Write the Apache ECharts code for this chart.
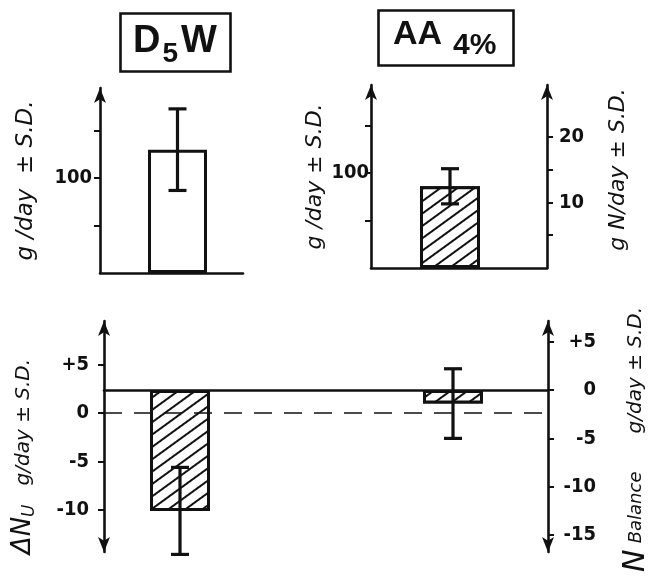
<!DOCTYPE html>
<html>
<head>
<meta charset="utf-8">
<script src="https://cdn.jsdelivr.net/npm/echarts@6/dist/echarts.min.js"></script>
<style>
  html, body { margin: 0; padding: 0; background: #fff; }
  #chart { width: 660px; height: 577px; }
</style>
</head>
<body>
<div id="chart"></div>
<script>
// Study groups
const groups = ['D5W', 'AA 4%'];
// Daily intake, g/day (mean and S.D.)
const intakeMean = [130, 86];
const intakeSD = [43, 18.5];
// Nitrogen balance, g/day (mean and S.D.)
const balanceMean = [-12.5, -1.4];
const balanceSD = [4.5, 3.6];
// Tick values and labelled ticks
const intakeTicks = [50, 100, 150];
const intakeLabels = [100];
const nitrogenTicks = [5, 10, 15, 20];
const nitrogenLabels = [10, 20];
const deltaNuTicks = [5, 0, -5, -10];
const balanceTicks = [5, 0, -5, -10, -15];

const INK = '#111';
const FONT = 'DejaVu Sans';
const TICK_FONT = "'DejaVu Sans Condensed', 'Liberation Sans Narrow', 'DejaVu Sans'";
const TITLE_FONT = 'Liberation Sans';
const AXIS_W = 2.6;

// axis ranges
const intakeMaxLeft = 195;
const intakeMaxRight = 192.6;
const nitrogenMax = 27.9;
const nuRange = [-14.33, 9.48];
const balRange = [-16.75, 7.14];

const hatch = {
  symbol: 'rect',
  symbolSize: 1,
  dashArrayX: [1, 0],
  dashArrayY: [2, 8],
  rotation: -Math.PI / 5,
  color: INK,
  backgroundColor: '#fff'
};

function signed(v) {
  return v > 0 ? '+' + v : (v < 0 ? '-' + Math.abs(v) : '' + v);
}

function errorBar(params, api) {
  const c = api.value(0);
  const hi = api.coord([c, api.value(1)]);
  const lo = api.coord([c, api.value(2)]);
  const cap = 9;
  const st = { stroke: INK, lineWidth: 3.2 };
  return {
    type: 'group',
    children: [
      { type: 'line', shape: { x1: hi[0], y1: hi[1], x2: lo[0], y2: lo[1] }, style: st },
      { type: 'line', shape: { x1: hi[0] - cap, y1: hi[1], x2: hi[0] + cap, y2: hi[1] }, style: st },
      { type: 'line', shape: { x1: lo[0] - cap, y1: lo[1], x2: lo[0] + cap, y2: lo[1] }, style: st }
    ]
  };
}

const tickStyle = { show: true, length: 6, lineStyle: { color: INK, width: 2 } };
function ticks(values) { return Object.assign({}, tickStyle, { customValues: values }); }
function labels(values, margin, extra) {
  return Object.assign({
    color: INK, fontFamily: TICK_FONT, fontWeight: 'bold', fontSize: 20,
    margin: margin, customValues: values
  }, extra || {});
}

function shownAxis(extra) {
  return Object.assign({
    type: 'value',
    splitLine: { show: false },
    axisLine: { show: true, lineStyle: { color: INK, width: AXIS_W }, symbol: ['none', 'arrow'], symbolSize: [9, 15] },
    nameLocation: 'middle',
    nameRotate: 90,
    nameTextStyle: { color: INK, fontFamily: FONT, fontStyle: 'italic', fontSize: 22 }
  }, extra);
}

function hiddenY(grid, min, max) {
  return { type: 'value', gridIndex: grid, min: min, max: max, show: false, splitLine: { show: false } };
}
function hiddenX(grid, cat) {
  return { type: 'category', gridIndex: grid, data: [cat], show: false };
}
function baseX(grid, extraLine) {
  return {
    type: 'category', gridIndex: grid, data: [''],
    axisLine: Object.assign({ lineStyle: { color: INK, width: AXIS_W } }, extraLine || {}),
    axisTick: { show: false }, axisLabel: { show: false }
  };
}
function panel(left, top, width, height) {
  return { left: left, top: top, width: width, height: height, outerBoundsMode: 'none', containLabel: false };
}

const chart = echarts.init(document.getElementById('chart'));

const option = {
  backgroundColor: '#fff',
  animation: false,
  title: [
    {
      left: 120, top: 18,
      text: '{d|D}{s|5}{w|W}',
      padding: [2, 14, 3, 13],
      borderColor: INK, borderWidth: 2.6,
      textStyle: {
        rich: {
          d: { fontFamily: TITLE_FONT, fontWeight: 'bold', fontSize: 38, color: INK, lineHeight: 44 },
          s: { fontFamily: TITLE_FONT, fontWeight: 'bold', fontSize: 28, color: INK, padding: [25, 3, 0, 2], lineHeight: 30 },
          w: { fontFamily: TITLE_FONT, fontWeight: 'bold', fontSize: 38, color: INK, lineHeight: 44 }
        }
      }
    },
    {
      left: 378, top: 15,
      text: '{a|AA}{p|4%}',
      padding: [3, 17, 5, 15],
      borderColor: INK, borderWidth: 2.6,
      textStyle: {
        rich: {
          a: { fontFamily: TITLE_FONT, fontWeight: 'bold', fontSize: 34, color: INK, lineHeight: 38, padding: [0, 0, 4, 0] },
          p: { fontFamily: TITLE_FONT, fontWeight: 'bold', fontSize: 30, color: INK, padding: [18, 0, 0, 11], lineHeight: 30 }
        }
      }
    }
  ],
  grid: [
    panel(100, 88, 143, 185),   // 0 intake D5W axes
    panel(148, 88, 59, 185),    // 1 intake D5W bar
    panel(371, 85, 176, 183),   // 2 intake AA axes
    panel(420, 85, 60, 183),    // 3 intake AA bar
    panel(104, 321, 444, 231),  // 4 balance axes
    panel(150, 321, 60, 231),   // 5 balance D5W bar
    panel(423, 321, 60, 231)    // 6 balance AA bar
  ],
  xAxis: [
    baseX(0),
    hiddenX(1, groups[0]),
    baseX(2),
    hiddenX(3, groups[1]),
    baseX(4, { onZero: true, onZeroAxisIndex: 6 }),
    hiddenX(5, groups[0]),
    hiddenX(6, groups[1])
  ],
  yAxis: [
    shownAxis({
      gridIndex: 0, min: 0, max: intakeMaxLeft,
      name: 'g /day  ± S.D.', nameGap: 62,
      nameTextStyle: { color: INK, fontFamily: FONT, fontStyle: 'italic', fontSize: 23 },
      axisTick: ticks(intakeTicks),
      axisLabel: labels(intakeLabels, 8)
    }),
    hiddenY(1, 0, intakeMaxLeft),
    shownAxis({
      gridIndex: 2, min: 0, max: intakeMaxRight, position: 'left',
      name: 'g /day ± S.D.', nameGap: 45,
      nameTextStyle: { color: INK, fontFamily: FONT, fontStyle: 'italic', fontSize: 22 },
      axisTick: ticks(intakeTicks),
      axisLabel: labels(intakeLabels, 2)
    }),
    shownAxis({
      gridIndex: 2, min: 0, max: nitrogenMax, position: 'right',
      name: 'g N/day ± S.D.', nameGap: 60,
      nameTextStyle: { color: INK, fontFamily: FONT, fontStyle: 'italic', fontSize: 22, padding: [0, 0, 0, 14] },
      axisTick: ticks(nitrogenTicks),
      axisLabel: labels(nitrogenLabels, 12)
    }),
    hiddenY(3, 0, intakeMaxRight),
    shownAxis({
      gridIndex: 4, min: nuRange[0], max: nuRange[1], position: 'left',
      name: '{big|ΔN}{sub|U}   g/day ± S.D.', nameGap: 66,
      axisLine: { show: true, lineStyle: { color: INK, width: AXIS_W }, symbol: ['arrow', 'arrow'], symbolSize: [9, 15] },
      axisTick: ticks(deltaNuTicks),
      axisLabel: labels(deltaNuTicks, 15, { formatter: v => signed(v) }),
      nameTextStyle: {
        color: INK, fontFamily: FONT, fontStyle: 'italic', fontSize: 20, padding: [0, 40, 0, 0],
        rich: {
          big: { fontFamily: FONT, fontSize: 26, color: INK },
          sub: { fontFamily: FONT, fontSize: 17, color: INK, padding: [12, 0, 0, 0] }
        }
      }
    }),
    shownAxis({
      gridIndex: 4, min: balRange[0], max: balRange[1], position: 'right',
      name: '{big|N} {bal|Balance}      g/day ± S.D.', nameGap: 73,
      axisLine: { show: true, lineStyle: { color: INK, width: AXIS_W }, symbol: ['arrow', 'arrow'], symbolSize: [9, 15] },
      axisTick: ticks(balanceTicks),
      axisLabel: labels(balanceTicks, 48, { align: 'right', formatter: v => signed(v) }),
      nameTextStyle: {
        color: INK, fontFamily: FONT, fontStyle: 'italic', fontSize: 20, padding: [0, 6, 0, 0],
        rich: {
          big: { fontFamily: FONT, fontSize: 30, color: INK },
          bal: { fontFamily: FONT, fontStyle: 'italic', fontSize: 18, color: INK }
        }
      }
    }),
    hiddenY(5, balRange[0], balRange[1]),
    hiddenY(6, balRange[0], balRange[1])
  ],
  series: [
    // intake, D5W
    {
      type: 'bar', xAxisIndex: 1, yAxisIndex: 1, barWidth: '100%',
      data: [intakeMean[0]],
      itemStyle: { color: '#fff', borderColor: INK, borderWidth: 3 }
    },
    {
      type: 'custom', xAxisIndex: 1, yAxisIndex: 1, renderItem: errorBar, z: 5,
      data: [[0, intakeMean[0] + intakeSD[0], intakeMean[0] - intakeSD[0]]]
    },
    // intake, AA 4%
    {
      type: 'bar', xAxisIndex: 3, yAxisIndex: 4, barWidth: '100%',
      data: [intakeMean[1]],
      itemStyle: { color: '#fff', borderColor: INK, borderWidth: 3, decal: hatch }
    },
    {
      type: 'custom', xAxisIndex: 3, yAxisIndex: 4, renderItem: errorBar, z: 5,
      data: [[0, intakeMean[1] + intakeSD[1], intakeMean[1] - intakeSD[1]]]
    },
    // zero of the urinary nitrogen change scale
    {
      type: 'line', xAxisIndex: 4, yAxisIndex: 5, data: [null], silent: true, z: 1,
      markLine: {
        silent: true, symbol: 'none', label: { show: false },
        lineStyle: { color: INK, width: 1.6, type: [18, 12] },
        data: [{ yAxis: 0 }]
      }
    },
    // nitrogen balance, D5W
    {
      type: 'bar', xAxisIndex: 5, yAxisIndex: 7, barWidth: '100%',
      data: [balanceMean[0]],
      itemStyle: { color: '#fff', borderColor: INK, borderWidth: 3, decal: hatch }
    },
    {
      type: 'custom', xAxisIndex: 5, yAxisIndex: 7, renderItem: errorBar, z: 5,
      data: [[0, balanceMean[0] + balanceSD[0], balanceMean[0] - balanceSD[0]]]
    },
    // nitrogen balance, AA 4%
    {
      type: 'bar', xAxisIndex: 6, yAxisIndex: 8, barWidth: '100%',
      data: [balanceMean[1]],
      itemStyle: { color: '#fff', borderColor: INK, borderWidth: 3, decal: hatch }
    },
    {
      type: 'custom', xAxisIndex: 6, yAxisIndex: 8, renderItem: errorBar, z: 5,
      data: [[0, balanceMean[1] + balanceSD[1], balanceMean[1] - balanceSD[1]]]
    }
  ]
};

chart.setOption(option);
</script>
</body>
</html>
